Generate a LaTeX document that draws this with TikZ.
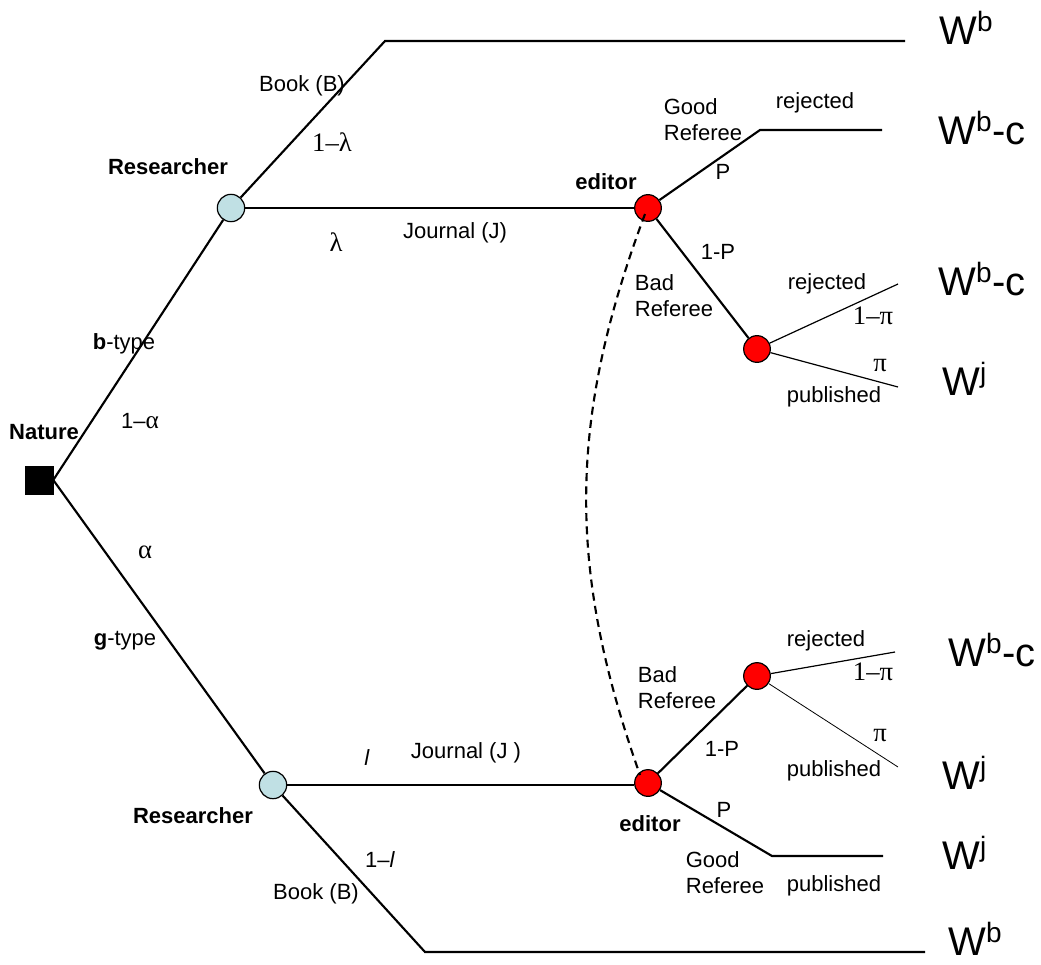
\documentclass[tikz,border=0pt]{standalone}
\usepackage{fontspec}
\setmainfont{Liberation Sans}
\newfontfamily\greekserif{Liberation Serif}
\usepackage{xcolor}
\usepackage{tikz}
\usetikzlibrary{positioning}
\definecolor{playerblue}{HTML}{C0E0E4}
\definecolor{chancered}{HTML}{FF0000}
\newcommand{\labelfont}{\fontsize{16.5}{19.5}\selectfont}

\begin{document}
\begin{tikzpicture}[x=0.75pt,y=-0.75pt,
  every node/.style={font=\labelfont,align=center,inner sep=1pt},
  naturebox/.style={draw,fill=black,minimum size=21pt,inner sep=0pt},
  researcher/.style={circle,draw,line width=0.9pt,fill=playerblue,minimum size=20.5pt,inner sep=0pt},
  editor/.style={circle,draw,line width=0.9pt,fill=chancered,minimum size=20pt,inner sep=0pt},
  branch/.style={line width=1.6pt},
  thinbranch/.style={line width=0.9pt},
  link/.style={line width=1.6pt,dash pattern=on 6pt off 4pt},
  who/.style={font=\labelfont\bfseries},
  prob/.style={font=\fontsize{20}{22}\selectfont\greekserif},
  referee/.style={align=left},
  payoff/.style={font=\fontsize{30}{34}\selectfont,anchor=base west,inner sep=0pt}
]
  \useasboundingbox (0,0) rectangle (1041,964);
  % players and chance nodes
  \node[naturebox] (nat) at (39,480) {};
  \node[researcher] (resb) at (231,208) {};
  \node[researcher] (resg) at (273,785) {};
  \node[editor] (edb) at (648,208) {};
  \node[editor] (refb) at (757,349) {};
  \node[editor] (edg) at (648,783) {};
  \node[editor] (refg) at (757,676) {};
  % branch ends
  \coordinate (bookb) at (385,41);   \coordinate (bookbend) at (905,41);
  \coordinate (goodb) at (760,130);  \coordinate (goodbend) at (882,130);
  \coordinate (rejb) at (898,284);   \coordinate (pubb) at (898,387);
  \coordinate (rejg) at (895,652);   \coordinate (pubg) at (898,767);
  \coordinate (goodg) at (772,856);  \coordinate (goodgend) at (883,856);
  \coordinate (bookg) at (425,952);  \coordinate (bookgend) at (925,952);
  % branches
  \draw[branch] (nat.east) -- (resb);
  \draw[branch] (nat.east) -- (resg);
  \draw[branch] (resb) -- (bookb) -- (bookbend);
  \draw[branch] (resb) -- (edb);
  \draw[branch] (edb) -- (goodb) -- (goodbend);
  \draw[branch] (edb) -- (refb);
  \draw[thinbranch] (refb) -- (rejb);
  \draw[thinbranch] (refb) -- (pubb);
  \draw[branch] (resg) -- (resg -| edg.west);
  \draw[branch] (resg) -- (bookg) -- (bookgend);
  \draw[branch] (edg) -- (refg);
  \draw[branch] (edg) -- (goodg) -- (goodgend);
  \draw[thinbranch] (refg) -- (rejg);
  \draw[thinbranch,line width=0.6pt] (refg) -- (pubg);
  % information set
  \draw[link] ([shift={(-3,6)}]edb.center) to[bend right=20] ([shift={(-8,-8)}]edg.center);
  % labels
  \node[who] (lnat) at (44,432) {Nature};
  \node (ltypeb) at (124,344) {\textbf{b}-type};
  \node (lalphab) at (140,421) {1\textendash{\fontsize{19}{21}\selectfont\greekserif α}};
  \node[prob] (lalphag) at (145,552) {α};
  \node (ltypeg) at (125,641) {\textbf{g}-type};
  \node[who] (lresb) at (168,167) {Researcher};
  \node (lbookb) at (302,86) {Book (B)};
  \node[prob] (llamb) at (332,142) {1–λ};
  \node[prob] (llam) at (336,242) {λ};
  \node (ljourb) at (455,233) {Journal (J)};
  \node[who] (ledb) at (606,182) {editor};
  \node[referee] (lgoodb) at (703,120) {Good\\Referee};
  \node (lpb) at (723,172) {P};
  \node (lrejgb) at (815,103) {rejected};
  \node (lnpb) at (718,252) {1-P};
  \node[referee] (lbadb) at (674,296) {Bad\\Referee};
  \node (lrejb) at (827,284) {rejected};
  \node[prob] (lpib) at (873,316) {1–π};
  \node[prob] (lpi) at (880,366) {π};
  \node (lpubb) at (834,397) {published};
  \node[who] (lresg) at (193,816) {Researcher};
  \node (lell) at (367,758) {\textit{l}};
  \node (ljourg) at (466,753) {Journal (J )};
  \node (lnell) at (380,860) {1\textendash\textit{l}};
  \node (lbookg) at (316,894) {Book (B)};
  \node[who] (ledg) at (650,824) {editor};
  \node (lpg) at (724,810) {P};
  \node[referee] (lgoodg) at (725,873) {Good\\Referee};
  \node (lpubgg) at (834,886) {published};
  \node[referee] (lbadg) at (677,688) {Bad\\Referee};
  \node (lnpg) at (722,749) {1-P};
  \node (lrejg) at (826,641) {rejected};
  \node[prob] (lpig) at (873,672) {1–π};
  \node[prob] (lpig2) at (880,735) {π};
  \node (lpubg) at (834,771) {published};
  % payoffs
  \node[payoff] (wb1) at (939,44) {W\textsuperscript{b}};
  \node[payoff] (wbc1) at (938,144) {W\textsuperscript{b}-c};
  \node[payoff] (wbc2) at (938,295) {W\textsuperscript{b}-c};
  \node[payoff] (wj1) at (942,395) {W\textsuperscript{j}};
  \node[payoff] (wbc3) at (948,666) {W\textsuperscript{b}-c};
  \node[payoff] (wj2) at (942,789) {W\textsuperscript{j}};
  \node[payoff] (wj3) at (942,869) {W\textsuperscript{j}};
  \node[payoff] (wb2) at (948,955) {W\textsuperscript{b}};
\end{tikzpicture}
\end{document}
